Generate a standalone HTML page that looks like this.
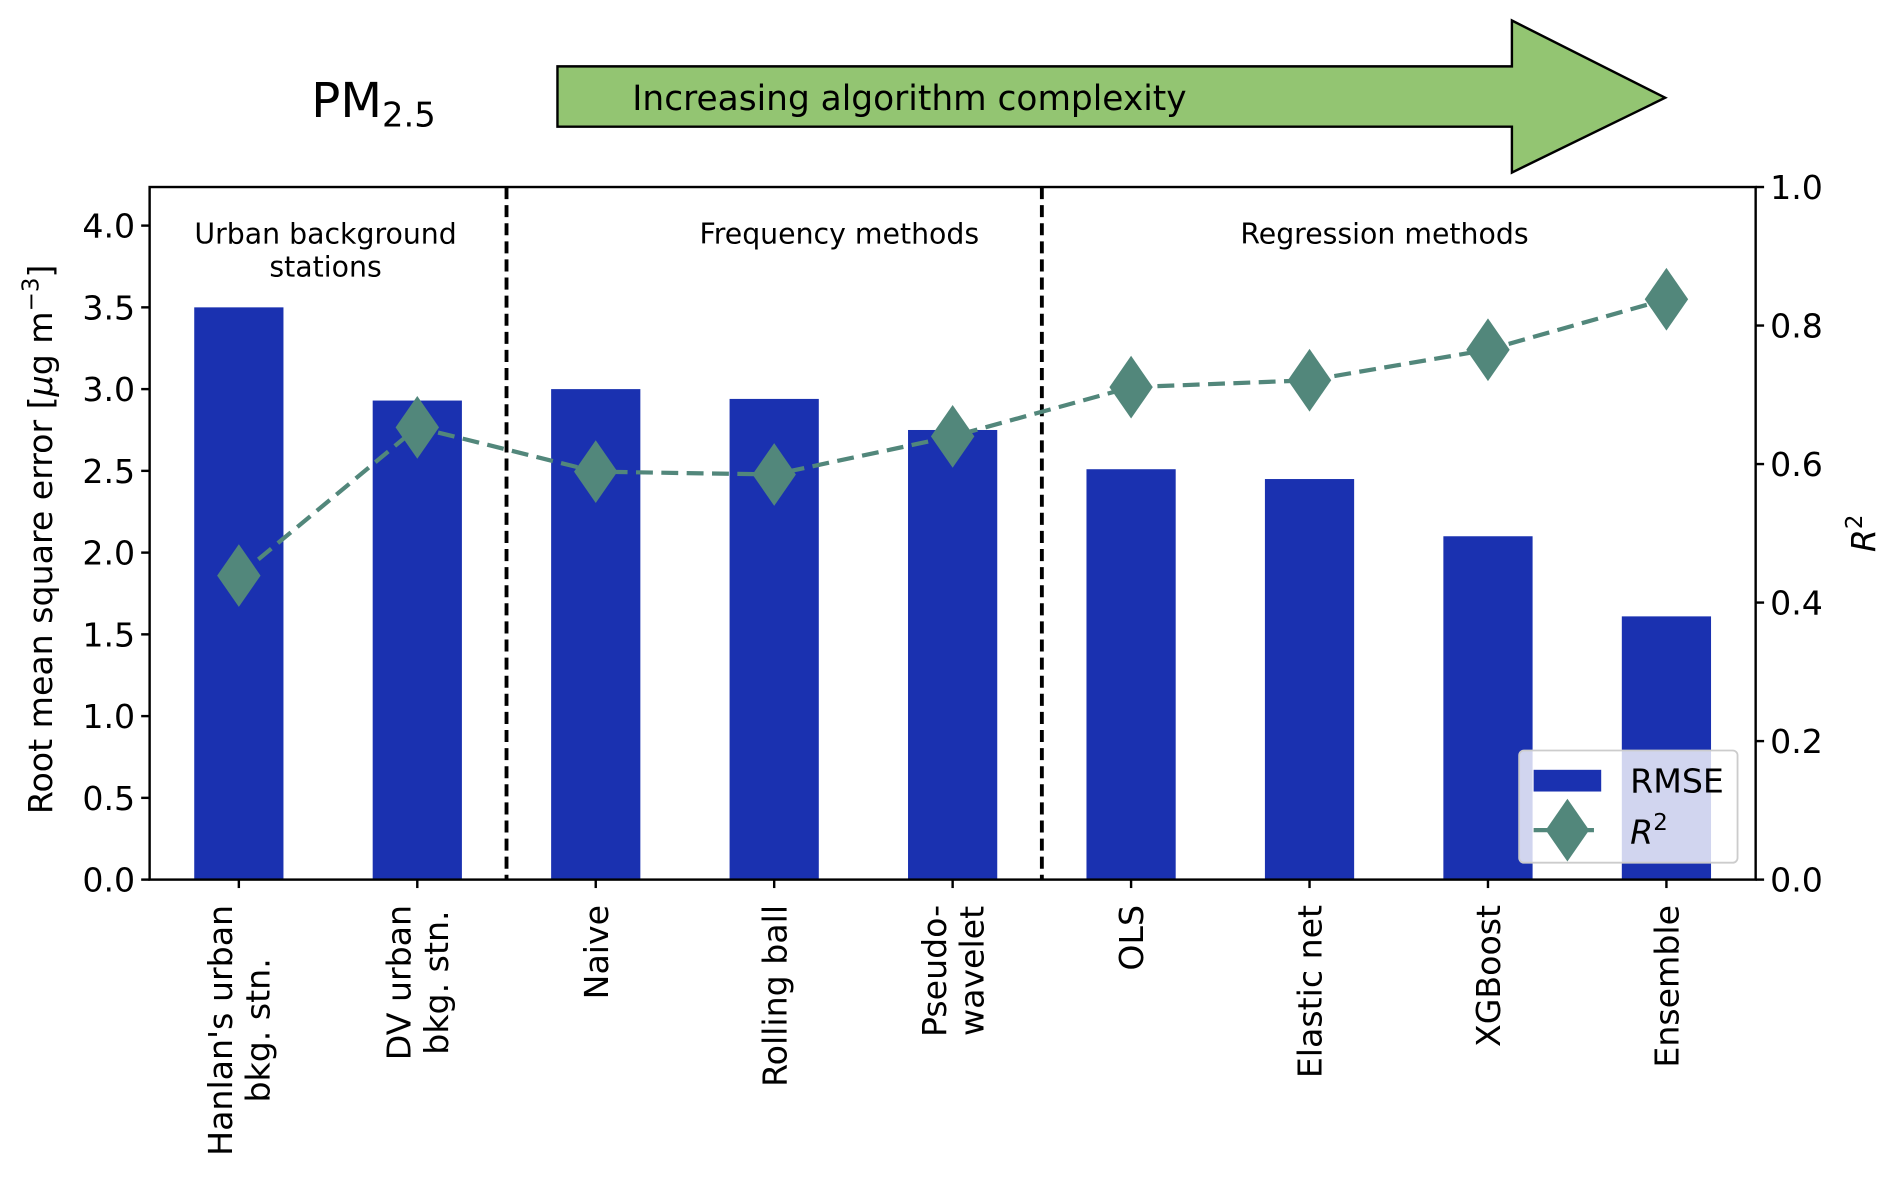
<!DOCTYPE html>
<html><head><meta charset="utf-8"><style>
html,body{margin:0;padding:0;background:#fff;}
svg{display:block;font-family:"DejaVu Sans","Liberation Sans",sans-serif;}
</style></head><body>
<svg id="chart" width="1892" height="1178" viewBox="0 0 1568 976.3" preserveAspectRatio="none" xmlns="http://www.w3.org/2000/svg">
  <g id="header">
    <text x="258" y="97" font-size="40">PM<tspan font-size="28" dy="8">2.5</tspan></text>
    <polygon points="462,55 1253,55 1253,17 1380,81 1253,143 1253,105 462,105" fill="#93c572" stroke="#000" stroke-width="2"/>
    <text x="524" y="91" font-size="28.5">Increasing algorithm complexity</text>
  </g>
  <g id="plot"></g>
</svg>
<script>
const categories = ["Hanlan's urban|bkg. stn.","DV urban|bkg. stn.","Naive","Rolling ball","Pseudo-|wavelet","OLS","Elastic net","XGBoost","Ensemble"];
const rmseValues = [3.5, 2.93, 3.0, 2.94, 2.75, 2.51, 2.45, 2.1, 1.61];
const r2Values = [0.439, 0.653, 0.589, 0.585, 0.64, 0.711, 0.721, 0.765, 0.838];
const leftTicks = [0.0,0.5,1.0,1.5,2.0,2.5,3.0,3.5,4.0];
const rightTicks = [0.0,0.2,0.4,0.6,0.8,1.0];
const groupDividers = [1.5, 4.5];
const groupLabels = [["Urban background","stations"],["Frequency methods"],["Regression methods"]];
const groupCenters = [0.486, 3.365, 6.42];

const NS="http://www.w3.org/2000/svg";
const L=124,R=1455,T=155,B=729;
const yMaxL=4.236;
const FS=27.5;
const xS=i=>L+(i+0.5)*(R-L)/categories.length;
const yL=v=>B-v/yMaxL*(B-T);
const yR=v=>B-v*(B-T);
const bw=0.5*(R-L)/categories.length;
const plot=document.getElementById('plot');
function mk(tag,attrs,parent){const e=document.createElementNS(NS,tag);for(const k in attrs)e.setAttribute(k,attrs[k]);(parent||plot).appendChild(e);return e;}

rmseValues.forEach((v,i)=>{
  const r=mk('rect',{x:xS(i)-bw/2,y:yL(v),width:bw,height:B-yL(v),fill:'#1a31b0'});
  
  
});
groupDividers.forEach(d=>{
  const l=mk('line',{x1:xS(d),x2:xS(d),y1:T,y2:B,stroke:'#000','stroke-width':3.2,'stroke-dasharray':'10,5'});
  
  
});
groupLabels.forEach((lines,g)=>{
  lines.forEach((s,k)=>{
    const t=mk('text',{x:xS(groupCenters[g]),y:202+k*27,'font-size':23.5,'text-anchor':'middle'});
    t.textContent=s;
    
    
  });
});
const pts=r2Values.map((v,i)=>xS(i)+','+yR(v)).join(' ');
const pl=mk('polyline',{points:pts,fill:'none',stroke:'#52877b','stroke-width':3.5,'stroke-dasharray':'14,7'});


r2Values.forEach((v,i)=>{
  const x=xS(i),y=yR(v);
  const d=mk('polygon',{points:`${x},${y-26} ${x+18},${y} ${x},${y+26} ${x-18},${y}`,fill:'#52877b'});
  
  
});
const fr=mk('rect',{x:L,y:T,width:R-L,height:B-T,fill:'none',stroke:'#000','stroke-width':2});


leftTicks.forEach(v=>{
  const y=yL(v);
  mk('line',{x1:L-7,x2:L,y1:y,y2:y,stroke:'#000','stroke-width':2});
  const t=mk('text',{x:L-12,y:y+10,'font-size':FS,'text-anchor':'end'});
  t.textContent=v.toFixed(1);
  
  
});
rightTicks.forEach(v=>{
  const y=yR(v);
  mk('line',{x1:R,x2:R+7,y1:y,y2:y,stroke:'#000','stroke-width':2});
  const t=mk('text',{x:R+12,y:y+10,'font-size':FS});
  t.textContent=v.toFixed(1);
  
  
});
categories.forEach((c,i)=>{
  const x=xS(i);
  mk('line',{x1:x,x2:x,y1:B,y2:B+7,stroke:'#000','stroke-width':2});
  const lines=c.split('|');
  const g=mk('g',{transform:`translate(${x},750) rotate(-90)`});
  
  
  const n=lines.length;
  const ts=lines.map((s,k)=>{const t=mk('text',{'font-size':FS,'text-anchor':'middle',y:(k-(n-1)/2)*31+10},g);t.textContent=s;return t;});
  const w=Math.max(...ts.map(t=>t.getComputedTextLength()));
  ts.forEach(t=>t.setAttribute('x',-w/2));
});
const yl=mk('text',{transform:'translate(43,447) rotate(-90)','font-size':FS,'text-anchor':'middle'});
yl.innerHTML='Root mean square error [<tspan font-style="italic">μ</tspan>g m<tspan font-size="19" dy="-11">−3</tspan><tspan dy="11">]</tspan>';


const yr=mk('text',{transform:'translate(1554,442) rotate(-90)','font-size':FS,'text-anchor':'middle'});
yr.innerHTML='<tspan font-style="italic">R</tspan><tspan font-size="19" dy="-11">2</tspan>';


const lg=mk('g',{});


mk('rect',{x:1259,y:622,width:181,height:93,rx:4,fill:'rgba(255,255,255,0.8)',stroke:'#ccc','stroke-width':1.5},lg);
mk('rect',{x:1271,y:638,width:56,height:18,fill:'#1a31b0'},lg);
const t1=mk('text',{x:1351,y:657,'font-size':FS},lg);t1.textContent='RMSE';
mk('line',{x1:1271,x2:1327,y1:688,y2:688,stroke:'#52877b','stroke-width':3.5,'stroke-dasharray':'12,7'},lg);
mk('polygon',{points:'1299,662 1317,688 1299,714 1281,688',fill:'#52877b'},lg);
const t2=mk('text',{x:1351,y:699,'font-size':FS},lg);t2.innerHTML='<tspan font-style="italic">R</tspan><tspan font-size="19" dy="-11">2</tspan>';
</script>
</body></html>
